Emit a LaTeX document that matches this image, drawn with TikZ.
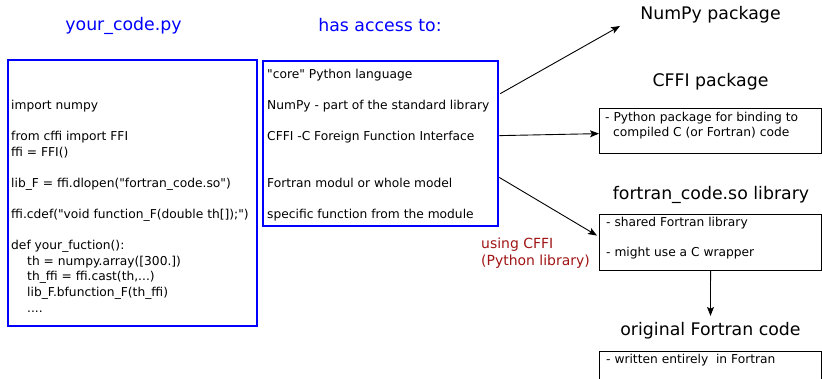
\documentclass[tikz,border=0pt]{standalone}
\usepackage{fontspec}
\newfontfamily\dv{DejaVu Sans}
\usetikzlibrary{arrows.meta,calc}
\definecolor{pblue}{RGB}{0,0,255}
\definecolor{dred}{RGB}{160,20,20}
\tikzset{
  title/.style={font=\dv\fontsize{17.4}{20}\selectfont, inner sep=0pt},
  codetxt/.style={font=\dv\fontsize{12.3}{15}\selectfont, anchor=base west, inner sep=0pt},
  redtxt/.style={font=\dv\fontsize{14}{18}\selectfont, anchor=base west, inner sep=0pt, text=dred},
  bluebox/.style={draw=pblue, line width=2.3bp, inner sep=0pt},
  blackbox/.style={draw=black, line width=1.1bp, inner sep=0pt},
  arr/.style={-{Stealth[length=9bp,width=7bp,inset=2bp]}, line width=0.9bp}
}
\begin{document}
\begin{tikzpicture}[x=1bp,y=-1bp]
\clip (0,0) rectangle (822,378);
\fill[white] (0,0) rectangle (822,378);
% titles
\node[title, text=pblue] (t1) at (123.5,25.5) {your\_code.py};
\node[title, text=pblue] (t2) at (380,25.5) {has access to:};
\node[title] (t3) at (710.5,14.5) {NumPy package};
\node[title] (t4) at (710.5,81.5) {CFFI package};
\node[title] (t5) at (711,195) {fortran\_code.so library};
\node[title] (t6) at (710.5,330.5) {original Fortran code};
% boxes
\node[bluebox, anchor=north west, minimum width=249bp, minimum height=266bp] (code) at (7,59) {};
\node[bluebox, anchor=north west, minimum width=235bp, minimum height=165bp] (mid) at (262,60) {};
\node[blackbox, anchor=north west, minimum width=222bp, minimum height=45bp] (cffibox) at (599,108) {};
\node[blackbox, anchor=north west, minimum width=222bp, minimum height=56bp] (fortbox) at (599,214) {};
\node[blackbox, anchor=north west, minimum width=222bp, minimum height=45bp] (origbox) at (599,351) {};
% code text
\node[codetxt] (c1) at (11,109) {import numpy};
\node[codetxt] (c2) at (11,140) {from cffi import FFI};
\node[codetxt] (c3) at (11,156) {ffi = FFI()};
\node[codetxt] (c4) at (11,187) {lib\_F = ffi.dlopen("fortran\_code.so")};
\node[codetxt] (c5) at (11,218) {ffi.cdef("void function\_F(double th[]);")};
\node[codetxt] (c6) at (11,249) {def your\_fuction():};
\node[codetxt] (c7) at (27,265) {th = numpy.array([300.])};
\node[codetxt] (c8) at (27,280.5) {th\_ffi = ffi.cast(th,...)};
\node[codetxt] (c9) at (27,296) {lib\_F.bfunction\_F(th\_ffi)};
\node[codetxt] (c10) at (27,312) {....};
% middle text
\node[codetxt] (m1) at (267,78) {"core" Python language};
\node[codetxt] (m2) at (267,109) {NumPy - part of the standard library};
\node[codetxt] (m3) at (267,140) {CFFI -C Foreign Function Interface};
\node[codetxt] (m4) at (267,187) {Fortran modul or whole model};
\node[codetxt] (m5) at (267,218) {specific function from the module};
% right box texts
\node[codetxt] (r1) at (605,121) {- Python package for binding to};
\node[codetxt] (r2) at (613,136) {compiled C (or Fortran) code};
\node[codetxt] (f1) at (606,226) {- shared Fortran library};
\node[codetxt] (f2) at (606,256) {- might use a C wrapper};
\node[codetxt] (o1) at (606,363) {- written entirely\ \ in Fortran};
% red label
\node[redtxt] (u1) at (481,248) {using CFFI};
\node[redtxt] (u2) at (481,265) {(Python library)};
% connectors
\coordinate (npend) at (620,26);
\draw[arr] ($(mid.east |- m2)+(1,-12)$) -- (npend);
\draw[arr] ($(mid.east |- m3)+(0,-1)$) -- ($(cffibox.west |- m3)+(0,-3)$);
\draw[arr] ($(mid.east |- m4)+(0,-5)$) -- ($(fortbox.west)+(-2,-7)$);
\draw[arr] (fortbox.south) -- ($(t6.north)+(0,-6)$);
\end{tikzpicture}
\end{document}
